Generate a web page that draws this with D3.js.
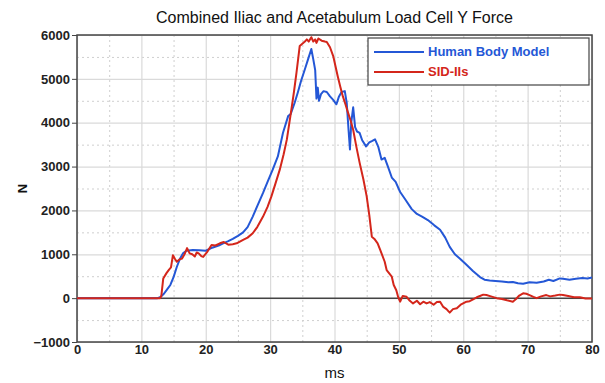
<!DOCTYPE html>
<html>
<head>
<meta charset="utf-8">
<script src="https://cdn.jsdelivr.net/npm/d3@7"></script>
<style>
  body { margin: 0; background: #fff; overflow: hidden; }
  svg { display: block; }
  svg text { font-family: "Liberation Sans", Arial, sans-serif; }
  .tick-label { font-size: 13px; font-weight: bold; fill: #222; }
</style>
</head>
<body>
<div id="chart"></div>
<script>
// data (ms, N)
const timeHbm = [0,12.5,13,13.5,14,14.5,15,15.5,16,16.5,17,18,19,20,21,22,22.7,23.5,24.2,25,25.8,26.5,27.3,28,28.9,29.6,30.4,31.2,32,32.8,33.2,33.8,34.3,34.8,35.4,35.9,36.4,36.7,37,37.2,37.4,37.6,37.9,38.3,38.8,39.3,39.8,40.3,40.7,41.1,41.6,41.9,42.2,42.4,42.6,42.9,43.2,43.5,43.9,44.3,44.9,45.4,45.8,46.3,46.8,47.3,47.8,48.3,48.9,49.5,50.2,51,52,52.8,53.6,54.5,55.5,56.4,57.2,57.9,58.7,59.5,60.5,61.5,62.6,63.3,64.1,65,66,67,67.7,68.5,69.3,70.3,71.4,72.5,73.3,74,75,75.5,76.5,77.5,78.5,79.3,80];
const forceHbm = [0,0,30,100,200,300,480,710,900,1030,1080,1100,1090,1080,1150,1200,1250,1300,1350,1420,1500,1620,1860,2100,2400,2650,2930,3230,3770,4150,4200,4450,4690,4950,5220,5450,5680,5450,5200,4550,4800,4500,4650,4720,4700,4600,4520,4420,4600,4700,4720,4450,3800,3390,4000,4350,3900,3800,3770,3600,3460,3550,3580,3620,3450,3160,3200,3000,2750,2650,2420,2250,2030,1920,1860,1780,1660,1560,1380,1170,1000,900,760,620,480,420,400,390,380,360,370,340,330,360,350,380,420,390,450,440,420,440,460,450,470];

const timeSid = [0,12.9,13.1,13.4,13.9,14.3,14.6,14.9,15.2,15.5,15.9,16.3,16.7,17.1,17.5,17.9,18.3,18.6,18.9,19.3,19.6,20.2,20.9,21.5,22.2,22.8,23.5,24.2,24.8,25.3,25.8,26.5,27.3,28,28.9,29.6,30.2,30.8,31.5,32.1,32.6,33.3,33.7,34.1,34.6,35,35.4,35.7,36,36.4,36.7,37,37.2,37.5,38,38.5,38.8,39.3,39.8,40.5,40.9,41.3,41.7,42.1,42.5,42.9,43.4,43.9,44.5,45,45.4,45.8,46.2,46.7,47.1,47.8,48.1,48.9,49.2,49.6,49.9,50.2,50.6,51.2,51.7,52.2,52.8,53.3,53.8,54.3,54.8,55.4,55.9,56.4,56.9,57.4,57.9,58.4,59,59.6,60.5,61,61.6,62.1,62.6,63.1,63.6,64.3,65.2,66,66.8,67.7,68.2,68.7,69.3,69.8,70.3,70.9,71.4,72.1,72.9,73.5,74.3,75,75.5,76.3,77.2,78.1,79,80];
const forceSid = [0,0,50,450,570,650,700,980,900,830,880,900,1000,1140,1020,1000,950,1040,1020,960,940,1050,1210,1200,1250,1280,1220,1230,1250,1290,1330,1380,1480,1620,1860,2080,2320,2600,2930,3280,3620,4300,4700,5150,5750,5800,5850,5900,5850,5950,5850,5900,5820,5920,5870,5850,5840,5720,5520,5060,4820,4600,4420,4230,4050,3840,3450,3090,2700,2320,1900,1400,1350,1250,1100,830,640,490,300,180,20,-80,50,30,-60,-120,-60,-140,-80,-120,-90,-150,-90,-80,-200,-250,-330,-250,-230,-150,-80,-70,-20,20,50,80,70,40,0,-20,-50,-80,-20,60,110,100,70,30,0,40,70,40,60,80,70,50,20,20,-10,-10];

const xTicks = [0,10,20,30,40,50,60,70,80];
const yTicks = [-1000,0,1000,2000,3000,4000,5000,6000];
const seriesNames = ["Human Body Model", "SID-IIs"];

const blue = "#2457d6";
const red = "#d4261b";

const width = 605, height = 383;
const margin = { top: 35, right: 13, bottom: 41, left: 77 };
const innerWidth = width - margin.left - margin.right;
const innerHeight = height - margin.top - margin.bottom;

const svg = d3.select("#chart").append("svg")
    .attr("width", width).attr("height", height);

const chart = svg.append("g")
    .attr("transform", `translate(${margin.left}, ${margin.top})`);

const xScale = d3.scaleLinear().domain([0, 80]).range([0, innerWidth]);
const yScale = d3.scaleLinear().domain([-1000, 6000]).range([innerHeight, 0]);

// grid lines (minor dotted, major solid)
const gridStyle = (g, color, dash, w) => {
    g.select(".domain").remove();
    g.selectAll("text").remove();
    g.selectAll("line").attr("stroke", color).attr("stroke-dasharray", dash).attr("stroke-width", w);
};
chart.append("g")
    .call(d3.axisLeft(yScale).tickValues(d3.range(-500, 6000, 1000)).tickSize(-innerWidth))
    .call(g => gridStyle(g, "#cfcfcf", "2 3", 1));
chart.append("g")
    .attr("transform", `translate(0, ${innerHeight})`)
    .call(d3.axisBottom(xScale).tickValues(d3.range(5, 80, 10)).tickSize(-innerHeight))
    .call(g => gridStyle(g, "#cfcfcf", "2 3", 1));
chart.append("g")
    .call(d3.axisLeft(yScale).tickValues(yTicks).tickSize(-innerWidth))
    .call(g => gridStyle(g, "#dadada", null, 1.2));
chart.append("g")
    .attr("transform", `translate(0, ${innerHeight})`)
    .call(d3.axisBottom(xScale).tickValues(xTicks).tickSize(-innerHeight))
    .call(g => gridStyle(g, "#dadada", null, 1.2));

// zero line
chart.append("line")
    .attr("x1", 0).attr("x2", innerWidth)
    .attr("y1", yScale(0)).attr("y2", yScale(0))
    .attr("stroke", "#444").attr("stroke-width", 1.5);

// frame
chart.append("rect")
    .attr("width", innerWidth).attr("height", innerHeight)
    .attr("fill", "none").attr("stroke", "#444").attr("stroke-width", 1.5);

// axes with labels
const leftAxis = chart.append("g")
    .call(d3.axisLeft(yScale).tickValues(yTicks).tickSize(5).tickPadding(2).tickFormat(d3.format("d")));
leftAxis.select(".domain").remove();
leftAxis.selectAll("line").attr("stroke", "#444");
leftAxis.selectAll("text").attr("class", "tick-label");

const bottomAxis = chart.append("g")
    .attr("transform", `translate(0, ${innerHeight})`)
    .call(d3.axisBottom(xScale).tickValues(xTicks).tickSize(0).tickPadding(3).tickFormat(d3.format("d")));
bottomAxis.select(".domain").remove();
bottomAxis.selectAll("text").attr("class", "tick-label");

// lines
const lineGen = (ts, vs) => d3.line()
    .x((d, i) => xScale(ts[i]))
    .y(d => yScale(d))(vs);

chart.append("path")
    .attr("d", lineGen(timeHbm, forceHbm))
    .attr("fill", "none").attr("stroke", blue).attr("stroke-width", 2)
    .attr("stroke-linejoin", "round");

chart.append("path")
    .attr("d", lineGen(timeSid, forceSid))
    .attr("fill", "none").attr("stroke", red).attr("stroke-width", 2)
    .attr("stroke-linejoin", "round");

// legend
const legend = svg.append("g").attr("transform", "translate(368, 38)");
legend.append("rect")
    .attr("width", 221).attr("height", 47)
    .attr("fill", "#fff").attr("stroke", "#444").attr("stroke-width", 1.2);
[blue, red].forEach((c, i) => {
    legend.append("line")
        .attr("x1", 6).attr("x2", 56)
        .attr("y1", 14 + i * 20).attr("y2", 14 + i * 20)
        .attr("stroke", c).attr("stroke-width", 2);
    legend.append("text")
        .attr("x", 60).attr("y", 18 + i * 20)
        .attr("fill", c)
        .style("font-size", "13px").style("font-weight", "bold")
        .text(seriesNames[i]);
});

// titles
svg.append("text")
    .attr("x", margin.left + innerWidth / 2).attr("y", 23)
    .attr("text-anchor", "middle")
    .style("font-size", "16px").attr("fill", "#111")
    .text("Combined Iliac and Acetabulum Load Cell Y Force");

svg.append("text")
    .attr("x", margin.left + innerWidth / 2).attr("y", 378)
    .attr("text-anchor", "middle")
    .style("font-size", "15px").attr("fill", "#111")
    .text("ms");

svg.append("text")
    .attr("transform", `translate(27, ${margin.top + innerHeight / 2}) rotate(-90)`)
    .attr("text-anchor", "middle")
    .style("font-size", "13px").style("font-weight", "bold").attr("fill", "#111")
    .text("N");
</script>
</body>
</html>
